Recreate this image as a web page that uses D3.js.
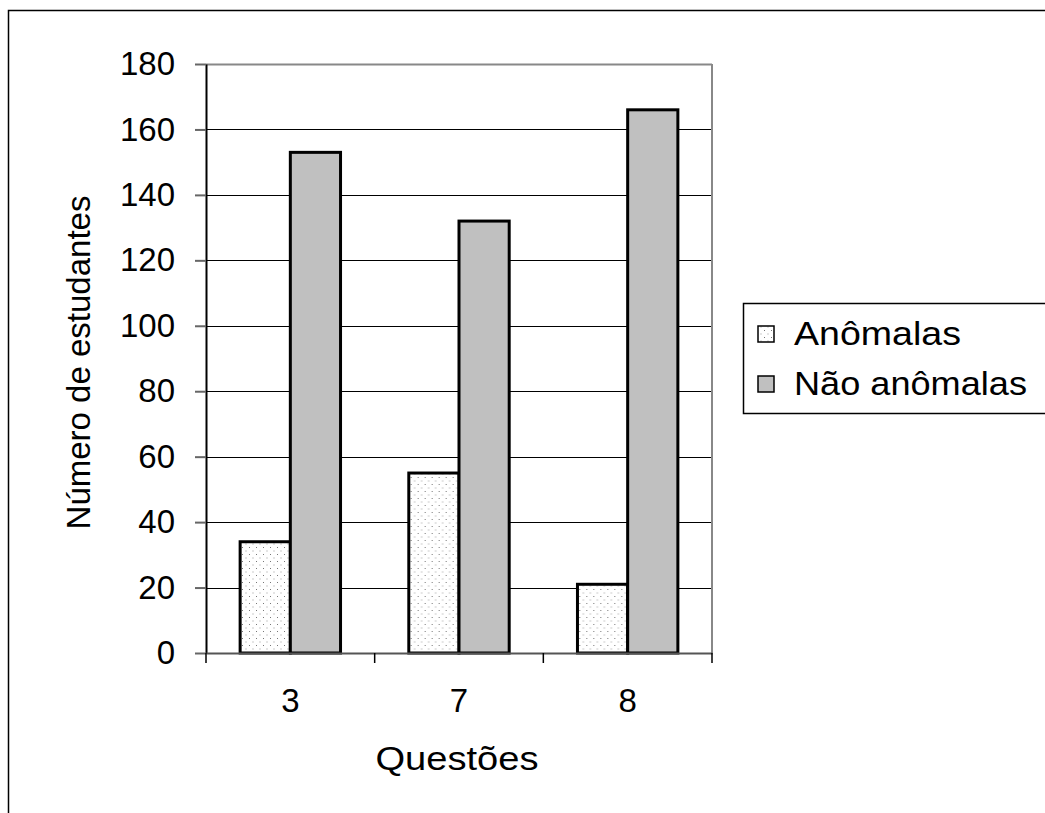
<!DOCTYPE html>
<html>
<head>
<meta charset="utf-8">
<script src="https://cdn.jsdelivr.net/npm/d3@7"></script>
<style>
  html, body { margin: 0; padding: 0; background: #fff; }
  svg { display: block; font-family: "Liberation Sans", Arial, sans-serif; }
</style>
</head>
<body>
<svg id="chart" width="1045" height="813"></svg>
<script>
// Student counts per question, split by answer type
const categories = ["3", "7", "8"];
const seriesNames = ["Anômalas", "Não anômalas"];
const anomalas = [34, 55, 21];
const naoAnomalas = [153, 132, 166];
const yTicks = [0, 20, 40, 60, 80, 100, 120, 140, 160, 180];

const svg = d3.select("#chart");
const W = 1045, H = 813;
const FONT = 33;

// dotted fill for the first series
const defs = svg.append("defs");
const pat = defs.append("pattern")
  .attr("id", "dots").attr("patternUnits", "userSpaceOnUse")
  .attr("width", 7).attr("height", 7);
pat.append("rect").attr("width", 7).attr("height", 7).attr("fill", "#fff");
pat.append("rect").attr("x", 1).attr("y", 1).attr("width", 1).attr("height", 1).attr("fill", "#777");
pat.append("rect").attr("x", 4.5).attr("y", 4.5).attr("width", 1).attr("height", 1).attr("fill", "#999");

const fills = ["url(#dots)", "#c0c0c0"];

// outer chart frame
svg.append("rect").attr("x", 8.5).attr("y", 10.5)
  .attr("width", W + 20).attr("height", H + 20)
  .attr("fill", "none").attr("stroke", "#000").attr("stroke-width", 1.5);

const plot = { left: 206, right: 712, top: 64, bottom: 653 };

const x = d3.scaleBand().domain(categories).range([plot.left, plot.right]);
const xs = d3.scaleBand().domain(seriesNames)
  .range([0, x.bandwidth()]).paddingOuter(0.68).paddingInner(0);
const y = d3.scaleLinear().domain([0, 180]).range([plot.bottom, plot.top]);

// gridlines
svg.append("g").selectAll("line").data(yTicks.filter(d => d > 0 && d < 180)).join("line")
  .attr("x1", plot.left).attr("x2", plot.right)
  .attr("y1", d => Math.round(y(d)) + 0.5).attr("y2", d => Math.round(y(d)) + 0.5)
  .attr("stroke", "#000").attr("stroke-width", 1);

// plot frame (top and right in grey)
svg.append("line").attr("x1", plot.left).attr("x2", plot.right)
  .attr("y1", plot.top + 0.5).attr("y2", plot.top + 0.5)
  .attr("stroke", "#888").attr("stroke-width", 2);
svg.append("line").attr("x1", plot.right).attr("x2", plot.right)
  .attr("y1", plot.top).attr("y2", plot.bottom)
  .attr("stroke", "#888").attr("stroke-width", 2);

// bars
const data = categories.map((c, i) => ({ cat: c, values: [anomalas[i], naoAnomalas[i]] }));
const groups = svg.append("g").selectAll("g").data(data).join("g")
  .attr("transform", d => `translate(${x(d.cat)},0)`);
groups.selectAll("rect").data(d => d.values.map((v, j) => ({ name: seriesNames[j], v, j }))).join("rect")
  .attr("x", d => xs(d.name))
  .attr("y", d => y(d.v))
  .attr("width", xs.bandwidth())
  .attr("height", d => y(0) - y(d.v))
  .attr("fill", d => fills[d.j])
  .attr("stroke", "#000").attr("stroke-width", 3);

// y axis
const yAxis = svg.append("g").attr("transform", `translate(${plot.left},0)`)
  .call(d3.axisLeft(y).tickValues(yTicks).tickSize(11).tickPadding(20).tickSizeOuter(0));
yAxis.select(".domain").attr("stroke", "#000").attr("stroke-width", 2);
yAxis.selectAll(".tick line").attr("stroke", "#666").attr("stroke-width", 2);
yAxis.selectAll(".tick text").attr("font-size", FONT).attr("fill", "#000")
  .attr("font-family", "Liberation Sans, Arial, sans-serif");

// x axis
const xAxis = svg.append("g").attr("transform", `translate(0,${plot.bottom})`)
  .call(d3.axisBottom(x).tickSize(0).tickPadding(36).tickSizeOuter(0));
xAxis.select(".domain").attr("stroke", "#555").attr("stroke-width", 2);
xAxis.selectAll(".tick text").attr("font-size", FONT).attr("fill", "#000")
  .attr("font-family", "Liberation Sans, Arial, sans-serif");
// category separators below the axis
const seps = [plot.left, ...categories.slice(1).map(c => x(c)), plot.right];
svg.append("g").selectAll("line").data(seps).join("line")
  .attr("x1", d => d).attr("x2", d => d)
  .attr("y1", plot.bottom).attr("y2", plot.bottom + 10)
  .attr("stroke", "#000").attr("stroke-width", 1.5);

// axis titles
svg.append("text").attr("x", 457).attr("y", 770)
  .attr("text-anchor", "middle").attr("font-size", FONT)
  .attr("textLength", 163).attr("lengthAdjust", "spacingAndGlyphs").text("Questões");
svg.append("text")
  .attr("transform", `translate(90,${(plot.top + plot.bottom) / 2 + 4}) rotate(-90)`)
  .attr("text-anchor", "middle").attr("font-size", FONT).text("Número de estudantes");

// legend
const legendWidths = [167, 233];
const lg = svg.append("g");
lg.append("rect").attr("x", 743.5).attr("y", 303.5).attr("width", 320).attr("height", 110)
  .attr("fill", "#fff").attr("stroke", "#000").attr("stroke-width", 1.5);
const items = lg.selectAll("g").data(seriesNames).join("g")
  .attr("transform", (d, i) => `translate(0,${i * 50})`);
items.append("rect").attr("x", 758).attr("y", 326).attr("width", 16).attr("height", 16)
  .attr("fill", (d, i) => fills[i]).attr("stroke", "#000").attr("stroke-width", 1.5);
items.append("text").attr("x", 794).attr("y", 345).attr("font-size", FONT)
  .attr("textLength", (d, i) => legendWidths[i]).attr("lengthAdjust", "spacingAndGlyphs")
  .text(d => d);
</script>
</body>
</html>
